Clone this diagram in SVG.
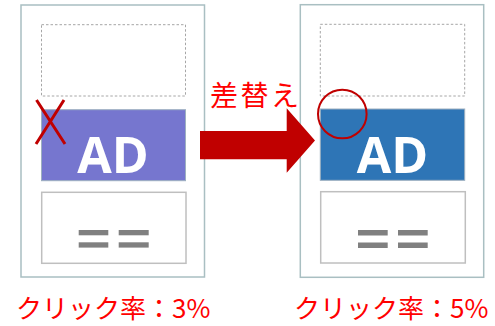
<svg xmlns="http://www.w3.org/2000/svg" width="495" height="326" viewBox="0 0 495 326">
<style>
.frame{fill:#fff;stroke:#A9BFC2;stroke-width:1.5}
.dash{fill:none;stroke:#A6A6A6;stroke-width:1;stroke-dasharray:2.5 2}
.adbox{stroke:#9DB0C0;stroke-width:1}
.bot{fill:#fff;stroke:#BFBFBF;stroke-width:1.5}
.bar{fill:#808080}
.ad{font-family:"Open Sans","Noto Sans","DejaVu Sans",sans-serif;font-weight:bold;font-size:50px;fill:#fff;text-anchor:middle}
.red{font-family:"Noto Sans CJK JP","Noto Sans CJK SC",sans-serif;fill:#FF0000}
</style>
<rect width="495" height="326" fill="#fff"/>
<g id="page-before">
<rect class="frame" x="21" y="5" width="183.5" height="272"/>
<rect class="dash" x="41.5" y="24.7" width="144" height="71.3"/>
<rect class="adbox" x="41.5" y="109.7" width="144" height="71" fill="#7676CF"/>
<text class="ad" x="113" y="172.5">AD</text>
<rect class="bot" x="41.7" y="192.3" width="144.3" height="71"/>
<rect class="bar" x="78.7" y="230" width="29.6" height="5.3"/>
<rect class="bar" x="78.7" y="242.3" width="29.6" height="5.3"/>
<rect class="bar" x="118.7" y="230" width="30" height="5.3"/>
<rect class="bar" x="118.7" y="242.3" width="30" height="5.3"/>
<path d="M36.5 100 L65 144 M64 100 L36 144" stroke="#C00000" stroke-width="3" fill="none"/>
</g>
<g id="page-after">
<rect class="frame" x="300.3" y="4.7" width="183.4" height="272.6"/>
<rect class="dash" x="320.3" y="24.3" width="144.4" height="71.7"/>
<rect class="adbox" x="320.3" y="109" width="144.4" height="71.3" fill="#2E75B6"/>
<text class="ad" x="392.5" y="172.5">AD</text>
<rect class="bot" x="320.7" y="191.7" width="144.6" height="71.3"/>
<rect class="bar" x="358" y="230" width="29.7" height="5.5"/>
<rect class="bar" x="358" y="242.5" width="29.7" height="5.5"/>
<rect class="bar" x="398" y="230" width="29.7" height="5.5"/>
<rect class="bar" x="398" y="242.5" width="29.7" height="5.5"/>
<circle cx="342.3" cy="114" r="24.3" fill="none" stroke="#C00000" stroke-width="2"/>
</g>
<g id="connectors">
<path d="M200 131 L286.7 131 L286.7 108.3 L315 140.5 L286.7 172.7 L286.7 159.3 L200 159.3 Z" fill="#C00000"/>
<text class="red" x="210" y="105.5" font-size="28" letter-spacing="2.5">差替え</text>
</g>
<g id="labels">
<text class="red" x="16" y="318" font-size="26">クリック率：3%</text>
<text class="red" x="294" y="318" font-size="26">クリック率：5%</text>
</g>
</svg>
